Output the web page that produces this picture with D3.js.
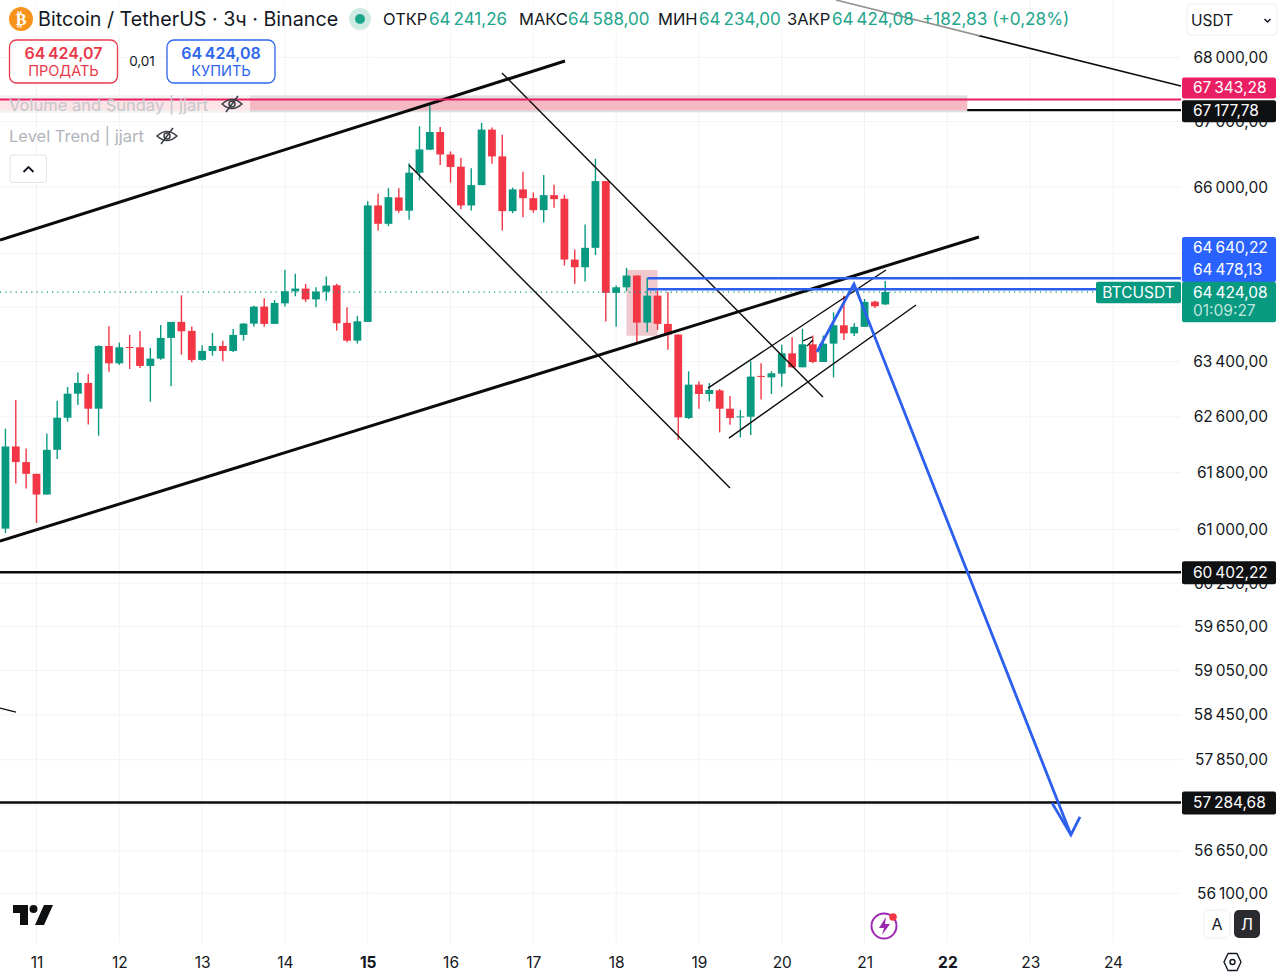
<!DOCTYPE html>
<html lang="ru">
<head>
<meta charset="utf-8">
<title>Bitcoin / TetherUS 3ч</title>
<script src="https://cdn.jsdelivr.net/npm/d3@7"></script>
<style>
  html, body { margin: 0; padding: 0; background: #fff; }
  svg { display: block; font-family: Inter, "Noto Sans", sans-serif; }
  .domain { display: none; }
</style>
</head>
<body>
<script>
// 3h candles, first one is at day 10.625
var firstDay = 10.625;
var candleStep = 1 / 8;
var opens = [61011,62175,61952,61785,61491,62127,62588,62935,63091,62718,63630,63376,63615,63610,63338,63445,63748,63983,63851,63426,63557,63630,63557,63792,63958,64209,63954,64257,64436,64476,64316,64431,64525,63969,63708,63983,65721,65444,65842,65641,66218,66569,66841,66497,66310,65721,66029,66878,66467,65635,65964,65831,65650,65877,65822,64908,64793,65083,66090,64412,64495,64670,63973,64371,63954,63797,62584,63066,62930,62983,62718,62593,62602,63193,63172,63226,63522,63318,63654,63396,63664,63933,63815,63910,64282,64241.26];
var closes = [62175,61952,61785,61491,62127,62588,62935,63091,62718,63630,63376,63610,63605,63338,63445,63748,63983,63845,63426,63557,63630,63557,63792,63958,64209,63954,64263,64436,64476,64316,64431,64520,63963,63708,63992,65721,65444,65846,65641,66218,66573,66841,66497,66304,65721,66029,66878,66467,65635,65964,65831,65650,65877,65816,64908,64793,65083,66090,64412,64495,64670,63973,64371,63954,63797,62593,63066,62930,62989,62718,62584,62607,63183,63178,63231,63522,63318,63654,63396,63664,63933,63815,63910,64278,64213,64424.08];
var highs = [62430,62843,62146,61785,62362,62833,63032,63241,63222,63639,63919,63679,63792,63851,63601,63939,63983,64376,63914,63639,63821,63708,63880,63968,64223,64331,64307,64754,64695,64546,64495,64655,64546,64198,64072,65785,65898,65983,65983,66364,66929,67279,66918,66543,66447,66284,66981,66909,66800,65990,66234,65918,66182,66035,65883,65057,65434,66431,66090,64520,64784,64670,64635,64446,64421,63797,63260,63110,63091,63003,62901,62699,63405,63376,63260,63649,63757,63880,63782,63782,64125,64371,63963,64322,64297,64588];
var lows = [60950,61647,61576,61091,61491,61995,62531,62771,62492,62329,63255,63353,63294,63309,62819,63430,63041,63503,63391,63415,63488,63405,63542,63708,63914,63910,63954,64209,64361,64278,64198,64297,63855,63683,63664,63983,65344,65408,65611,65505,66101,66569,66334,66066,65665,65645,66029,66355,65344,65605,65544,65611,65464,65686,64818,64546,64580,64975,63988,63910,64436,63683,63830,63866,63576,62267,62569,62718,62823,62377,62487,62304,62339,62852,62930,63037,63318,63318,63376,63396,63172,63718,63777,63910,64190,64234];

// drawings, [day, price] pairs
var upperChannel = [[10.559, 65200], [17.382, 67942]];
var lowerChannel = [[10.559, 60836], [22.381, 65245]];
var fallUpper = [[16.621, 67755], [20.497, 62886]];
var fallLower = [[15.498, 66335], [19.375, 61583]];
var riseUpper = [[19.109, 63016], [21.258, 64752]];
var riseLower = [[19.362, 62295], [21.621, 64232]];
var topRight = [[20.655, 68903], [24.821, 67552]];
var leftStub = [[10.559, 58542], [10.752, 58488]];
var tickA = [[20.256, 63703], [20.365, 63763]];
var tickB = [[20.304, 63628], [20.376, 63718]];
var arrowPath = [[20.425, 63541], [20.872, 64543], [23.492, 56860]];
var arrowHead = [[23.263, 57280], [23.492, 56860], [23.601, 57096]];
var pinkBox = [18.125, 18.5, 64752, 63780];
var band = [-1, 22.24, 67407, 67145];
var blueStartDay = 18.38;

var redLevel = 67343.28;
var blackLevel = 67177.78;
var blueLevels = [64640.22, 64478.13];
var blackLevels = [60402.22, 57284.68];
var lastPrice = 64424.08;
var bid = 64424.07;
var countdown = "01:09:27";

var priceTicks = [68000, 67000, 66000, 65000, 64200, 63400, 62600, 61800, 61000, 60250, 59650, 59050, 58450, 57850, 57250, 56650, 56100];
var coveredTicks = [65000, 64200, 57250]; // sit fully behind the price tags
var dayTicks = [11, 12, 13, 14, 15, 16, 17, 18, 19, 20, 21, 22, 23, 24];
var boldDays = [15, 22];

var w = 1280, h = 977;
var plotRight = 1181, plotBottom = 943;
var green = "#089981", red = "#f23645", blue = "#2b5fec", ink = "#131722";

var ru = d3.formatLocale({decimal: ",", thousands: "\u2009", grouping: [3], currency: ["", ""]});
var fmt = ru.format(",.2f");

var x = d3.scaleLinear().domain([11, 24]).range([36.5, 1113]);
var y = d3.scaleLog().domain([68000, 56100]).range([57.3, 893.3]);
var dayOf = function(i) { return firstDay + i * candleStep; };
var line = d3.line().x(function(d) { return x(d[0]); }).y(function(d) { return y(d[1]); });

var svg = d3.select("body").append("svg").attr("width", w).attr("height", h);
svg.append("clipPath").attr("id", "plot").append("rect").attr("width", plotRight).attr("height", plotBottom);

// grid
var grid = svg.append("g");
grid.selectAll("line.h").data(priceTicks).enter().append("line")
  .attr("x1", 0).attr("x2", plotRight)
  .attr("y1", function(d) { return y(d); }).attr("y2", function(d) { return y(d); })
  .attr("stroke", "#f3f3f4").attr("stroke-width", 1);
grid.selectAll("line.v").data(dayTicks).enter().append("line")
  .attr("x1", function(d) { return x(d); }).attr("x2", function(d) { return x(d); })
  .attr("y1", 0).attr("y2", plotBottom)
  .attr("stroke", "#f3f3f4").attr("stroke-width", 1);

// axes
var yAxis = svg.append("g").attr("transform", "translate(1268,0)")
  .call(d3.axisLeft(y).tickValues(priceTicks).tickSize(0).tickPadding(0)
    .tickFormat(function(d) { return coveredTicks.indexOf(d) >= 0 ? "" : fmt(d); }));
yAxis.selectAll("text").attr("font-size", 15.5).attr("fill", ink).attr("font-family", "Inter");

var xAxis = svg.append("g").attr("transform", "translate(0,957)")
  .call(d3.axisBottom(x).tickValues(dayTicks).tickSize(0).tickPadding(0).tickFormat(d3.format("d")));
xAxis.selectAll("text").attr("font-size", 15.5).attr("fill", ink).attr("font-family", "Inter")
  .attr("font-weight", function(d) { return boldDays.indexOf(d) >= 0 ? 700 : 400; });

var chart = svg.append("g").attr("clip-path", "url(#plot)");

// resistance band
chart.append("rect")
  .attr("x", x(band[0])).attr("width", x(band[1]) - x(band[0]))
  .attr("y", y(band[2])).attr("height", y(band[3]) - y(band[2]))
  .attr("fill", "#dedede");
chart.append("rect")
  .attr("x", x(band[0])).attr("width", x(band[1]) - x(band[0]))
  .attr("y", y(redLevel)).attr("height", y(blackLevel) - y(redLevel))
  .attr("fill", "#f7b9c1");
// legend veil over the left part of the band
chart.append("rect").attr("x", 0).attr("y", 95).attr("width", 250).attr("height", 17)
  .attr("fill", "#fff").attr("fill-opacity", 0.62);

// pink box under the candles
chart.append("rect")
  .attr("x", x(pinkBox[0])).attr("width", x(pinkBox[1]) - x(pinkBox[0]))
  .attr("y", y(pinkBox[2])).attr("height", y(pinkBox[3]) - y(pinkBox[2]))
  .attr("fill", "#efc9cd");

// candles
var candleColor = function(i) { return closes[i] >= opens[i] ? green : red; };
chart.selectAll("line.wick").data(opens).enter().append("line")
  .attr("class", "wick")
  .attr("x1", function(d, i) { return x(dayOf(i)); })
  .attr("x2", function(d, i) { return x(dayOf(i)); })
  .attr("y1", function(d, i) { return y(highs[i]); })
  .attr("y2", function(d, i) { return y(lows[i]); })
  .attr("stroke", function(d, i) { return candleColor(i); })
  .attr("stroke-width", 1.4);
chart.selectAll("rect.body").data(opens).enter().append("rect")
  .attr("class", "body")
  .attr("x", function(d, i) { return x(dayOf(i)) - 3.9; })
  .attr("width", 7.8)
  .attr("y", function(d, i) { return y(Math.max(opens[i], closes[i])); })
  .attr("height", function(d, i) { return Math.max(1, Math.abs(y(opens[i]) - y(closes[i]))); })
  .attr("fill", function(d, i) { return candleColor(i); });

// current price dots
chart.append("line")
  .attr("x1", 0).attr("x2", 1096).attr("y1", y(lastPrice)).attr("y2", y(lastPrice))
  .attr("stroke", green).attr("stroke-width", 1.2).attr("stroke-dasharray", "1.2 4");

// trend lines
function path(data, width, color) {
  chart.append("path").datum(data).attr("d", line)
    .attr("fill", "none").attr("stroke", color).attr("stroke-width", width);
}
path(upperChannel, 3, "#0b0b0b");
path(lowerChannel, 3, "#0b0b0b");
path(fallUpper, 1.4, "#0b0b0b");
path(fallLower, 1.4, "#0b0b0b");
path(riseUpper, 1.4, "#0b0b0b");
path(riseLower, 1.4, "#0b0b0b");
path(topRight, 1.5, "#0b0b0b");
path(leftStub, 1.4, "#0b0b0b");
path(tickA, 1.3, "#0b0b0b");
path(tickB, 1.3, "#0b0b0b");

// levels over the band
chart.append("line").attr("x1", 0).attr("x2", plotRight).attr("y1", y(redLevel)).attr("y2", y(redLevel))
  .attr("stroke", "#e91e63").attr("stroke-width", 2);
chart.append("line").attr("x1", x(band[1])).attr("x2", plotRight).attr("y1", y(blackLevel)).attr("y2", y(blackLevel))
  .attr("stroke", "#0b0b0b").attr("stroke-width", 2.4);

// horizontal levels
chart.selectAll("line.lvl").data(blackLevels).enter().append("line")
  .attr("x1", 0).attr("x2", plotRight)
  .attr("y1", function(d) { return y(d); }).attr("y2", function(d) { return y(d); })
  .attr("stroke", "#0b0b0b").attr("stroke-width", 2.6);
chart.selectAll("line.blue").data(blueLevels).enter().append("line")
  .attr("x1", x(blueStartDay)).attr("x2", plotRight)
  .attr("y1", function(d) { return y(d) + 0.8; }).attr("y2", function(d) { return y(d) + 0.8; })
  .attr("stroke", blue).attr("stroke-width", 2.4);

// forecast arrow
chart.append("path").datum(arrowPath).attr("d", line).attr("fill", "none")
  .attr("stroke", blue).attr("stroke-width", 2.8).attr("stroke-linejoin", "miter");
chart.append("path").datum(arrowHead).attr("d", line).attr("fill", "none")
  .attr("stroke", blue).attr("stroke-width", 2.8);

// price tags on the right
function tag(yTop, height, fill, lines) {
  svg.append("rect").attr("x", 1182).attr("y", yTop).attr("width", 94).attr("height", height)
    .attr("rx", 2).attr("fill", fill);
  lines.forEach(function(l) {
    svg.append("text").attr("x", 1193).attr("y", l.y)
      .attr("font-size", 15.5).attr("fill", l.color || "#fff").text(l.text);
  });
}
tag(y(redLevel) - 22, 21, "#e91e63", [{y: y(redLevel) - 6.5, text: fmt(redLevel)}]);
tag(y(blackLevel) - 10, 22, "#0f1012", [{y: y(blackLevel) + 6, text: fmt(blackLevel)}]);
tag(y(blackLevels[0]) - 11, 23, "#0f1012", [{y: y(blackLevels[0]) + 5.5, text: fmt(blackLevels[0])}]);
tag(y(blackLevels[1]) - 11, 23, "#0f1012", [{y: y(blackLevels[1]) + 5.5, text: fmt(blackLevels[1])}]);
tag(237, 45, "#2962ff", [
  {y: 253, text: fmt(blueLevels[0])},
  {y: 275, text: fmt(blueLevels[1])}]);
tag(281.7, 40.5, green, [
  {y: 297.5, text: fmt(lastPrice)},
  {y: 315.5, text: countdown, color: "#bfe6dd"}]);
svg.append("rect").attr("x", 1096).attr("y", 281.7).attr("width", 85).attr("height", 21.6).attr("rx", 2).attr("fill", green);
svg.append("text").attr("x", 1138.5).attr("y", 297.5).attr("text-anchor", "middle")
  .attr("font-size", 15.5).attr("fill", "#fff").text("BTCUSDT");

// header, translucent so the trend line greys out behind it
svg.append("rect").attr("x", 0).attr("y", 0).attr("width", 980).attr("height", 36).attr("fill", "#fff").attr("fill-opacity", 0.55);
svg.append("circle").attr("cx", 21).attr("cy", 19).attr("r", 12).attr("fill", "#f7931a");
svg.append("text").attr("x", 21).attr("y", 25).attr("text-anchor", "middle")
  .attr("font-size", 16).attr("font-weight", 700).attr("font-family", "DejaVu Sans").attr("fill", "#fff").text("₿");
svg.append("text").attr("x", 38).attr("y", 26).attr("font-size", 19.7).attr("fill", ink)
  .text("Bitcoin / TetherUS · 3ч · Binance");
svg.append("circle").attr("cx", 360).attr("cy", 19).attr("r", 11).attr("fill", "#cfe9e3");
svg.append("circle").attr("cx", 360).attr("cy", 19).attr("r", 5).attr("fill", "#1aa58c");

var ohlcNames = ["ОТКР", "МАКС", "МИН", "ЗАКР"];
var ohlcValues = [opens[85], highs[85], lows[85], closes[85]];
var ohlcNameX = [383, 519, 658, 787];
var ohlcValueX = [429, 568, 699, 832];
ohlcNames.forEach(function(n, i) {
  svg.append("text").attr("x", ohlcNameX[i]).attr("y", 25).attr("font-size", 16.5).attr("fill", ink).text(n);
  svg.append("text").attr("x", ohlcValueX[i]).attr("y", 25).attr("font-size", 17).attr("fill", "#22a58c").text(fmt(ohlcValues[i]));
});
svg.append("text").attr("x", 922).attr("y", 25).attr("font-size", 17.2).attr("fill", "#22a58c").text("+182,83 (+0,28%)");

// sell / buy buttons
function button(x0, color, price, label) {
  svg.append("rect").attr("x", x0).attr("y", 40).attr("width", 108).attr("height", 43)
    .attr("rx", 7).attr("fill", "#fff").attr("stroke", color).attr("stroke-width", 1.3);
  svg.append("text").attr("x", x0 + 54).attr("y", 59).attr("text-anchor", "middle")
    .attr("font-size", 16).attr("font-weight", 600).attr("fill", color).text(fmt(price));
  svg.append("text").attr("x", x0 + 54).attr("y", 76).attr("text-anchor", "middle")
    .attr("font-size", 14.5).attr("fill", color).text(label);
}
button(9.5, "#e8394a", bid, "ПРОДАТЬ");
button(167, "#2f66ee", lastPrice, "КУПИТЬ");
svg.append("text").attr("x", 142).attr("y", 66).attr("text-anchor", "middle").attr("font-size", 13.5).attr("fill", ink).text("0,01");

// indicators legend
function eye(cx, cy) {
  var g = svg.append("g").attr("transform", "translate(" + cx + "," + cy + ")")
    .attr("fill", "none").attr("stroke", "#3a3d45").attr("stroke-width", 1.5);
  g.append("path").attr("d", "M-10 0 Q0 -9 10 0 Q0 9 -10 0Z");
  g.append("circle").attr("r", 3);
  g.append("line").attr("x1", -6).attr("y1", 8).attr("x2", 6).attr("y2", -8);
}
svg.append("text").attr("x", 9).attr("y", 111).attr("font-size", 16.5).attr("fill", "#c5c7cb").text("Volume and Sunday | jjart");
eye(232, 104);
svg.append("text").attr("x", 9).attr("y", 142).attr("font-size", 16.5).attr("fill", "#b2b5bb").text("Level Trend | jjart");
eye(167, 136);
svg.append("rect").attr("x", 10).attr("y", 155).attr("width", 36.5).attr("height", 27.5).attr("rx", 3)
  .attr("fill", "#fff").attr("stroke", "#e4e5e8");
svg.append("path").attr("d", "M23.5 172 L28.5 167 L33.5 172").attr("fill", "none").attr("stroke", ink).attr("stroke-width", 1.8);

// currency selector
svg.append("rect").attr("x", 1187).attr("y", 4).attr("width", 90).attr("height", 31).attr("rx", 4)
  .attr("fill", "#fff").attr("stroke", "#eeeff1");
svg.append("text").attr("x", 1191).attr("y", 26).attr("font-size", 15.5).attr("fill", ink).text("USDT");
svg.append("path").attr("d", "M1264.5 19 L1267.5 22 L1270.5 19").attr("fill", "none").attr("stroke", ink).attr("stroke-width", 1.5);

// tradingview logo
svg.append("path").attr("fill", "#0e0f11")
  .attr("d", "M13 905 H28 V925 H20 V913 H13Z M35 925 L44 905 H53 L44 925Z");
svg.append("circle").attr("cx", 33.5).attr("cy", 909).attr("r", 4).attr("fill", "#0e0f11");

// lightning badge
svg.append("circle").attr("cx", 884).attr("cy", 926).attr("r", 12.5).attr("fill", "#fff")
  .attr("stroke", "#9c27b0").attr("stroke-width", 2);
svg.append("path").attr("d", "M886 917 L879 928 H884 L882 935 L890 924 H885Z").attr("fill", "#9c27b0");
svg.append("circle").attr("cx", 893).attr("cy", 917).attr("r", 3.8).attr("fill", "#f23645");

// scale buttons
svg.append("rect").attr("x", 1204).attr("y", 910).attr("width", 26).attr("height", 28).attr("rx", 5)
  .attr("fill", "#fff").attr("stroke", "#eceef0");
svg.append("text").attr("x", 1217).attr("y", 930).attr("text-anchor", "middle").attr("font-size", 16).attr("fill", ink).text("A");
svg.append("rect").attr("x", 1234).attr("y", 910).attr("width", 26).attr("height", 28).attr("rx", 5).attr("fill", "#2a2b2f");
svg.append("text").attr("x", 1247).attr("y", 930).attr("text-anchor", "middle").attr("font-size", 16).attr("fill", "#fff").text("Л");

// settings
svg.append("path").attr("d", "M1228 953.5 H1237 L1241 962 L1237 970.5 H1228 L1224 962Z")
  .attr("fill", "none").attr("stroke", ink).attr("stroke-width", 1.4).attr("stroke-linejoin", "round");
svg.append("circle").attr("cx", 1232.5).attr("cy", 962).attr("r", 2.5).attr("fill", "none").attr("stroke", ink).attr("stroke-width", 1.4);
</script>
</body>
</html>
